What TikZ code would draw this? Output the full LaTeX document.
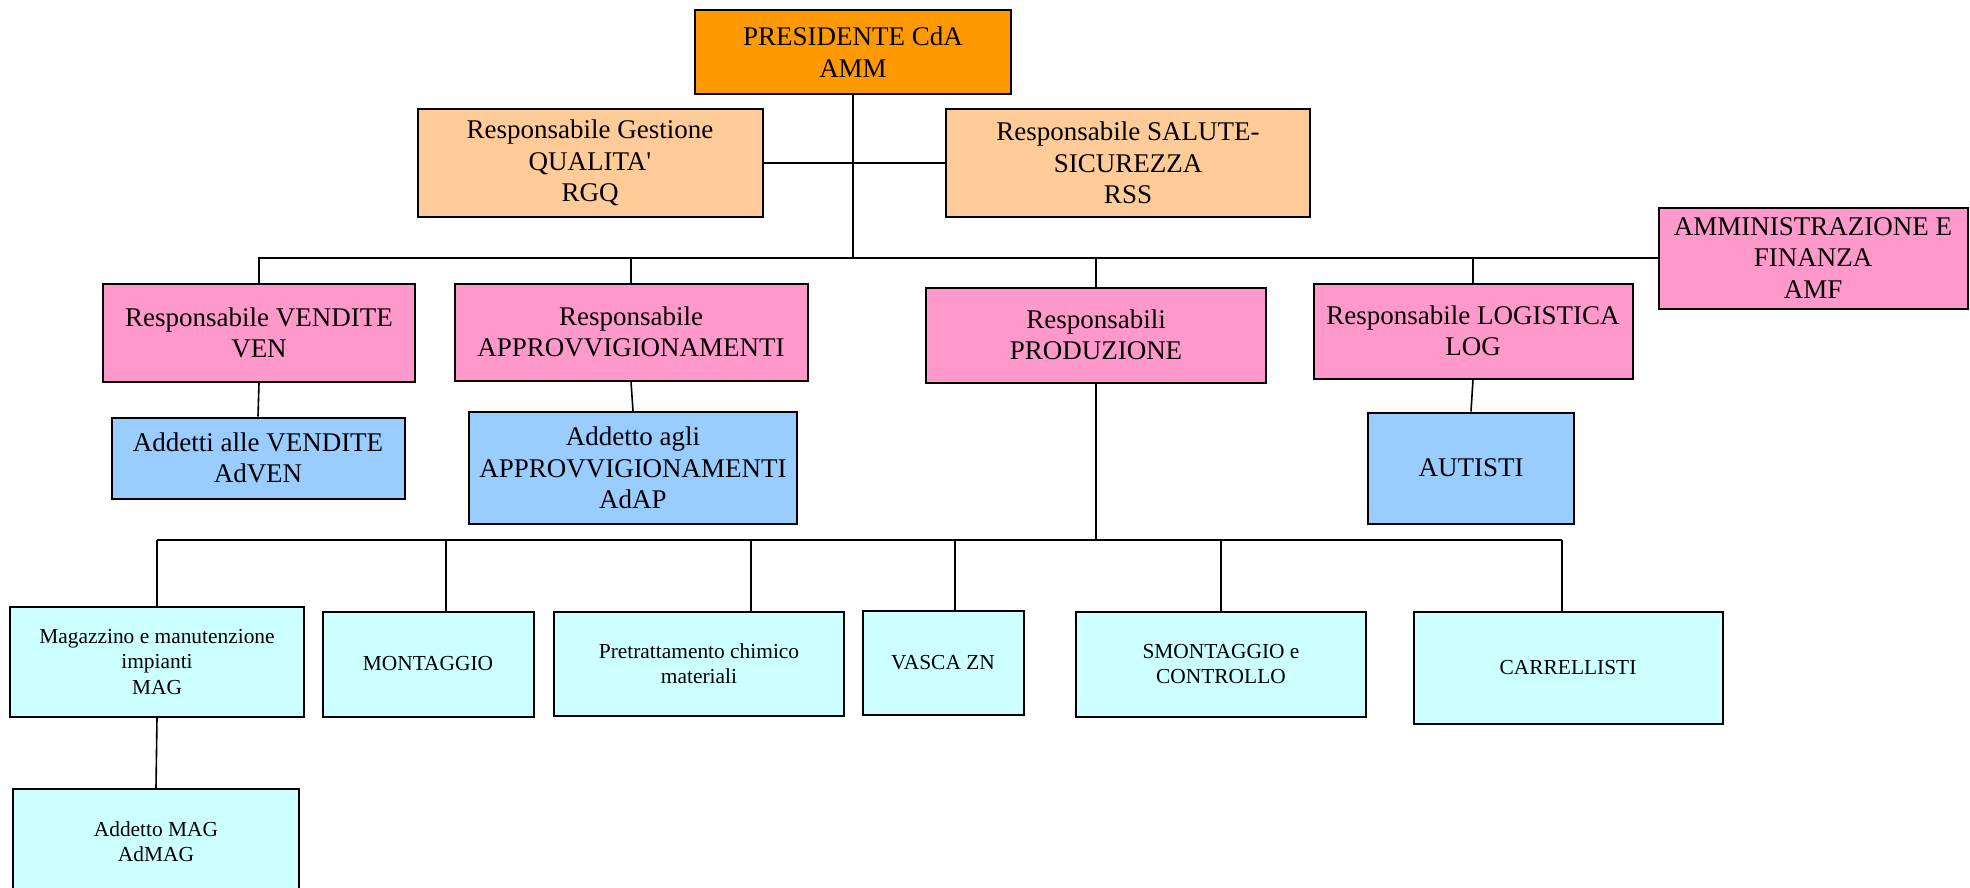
\documentclass[tikz,border=0pt]{standalone}
\usepackage{fontspec}
\setmainfont{Liberation Serif}[Ligatures=TeXOff]
\definecolor{presorange}{HTML}{FF9900}
\definecolor{staffpeach}{HTML}{FFCC99}
\definecolor{headpink}{HTML}{FF99CC}
\definecolor{aidblue}{HTML}{99CCFF}
\definecolor{unitcyan}{HTML}{CCFFFF}
\begin{document}
\begin{tikzpicture}[x=0.5pt,y=-0.5pt,
        box/.style={draw,line width=1pt,align=center,inner sep=2pt},
        bigtext/.style={font=\fontsize{13.5}{15.7}\selectfont},
        smalltext/.style={font=\fontsize{10.7}{12.6}\selectfont},
        link/.style={line width=0.8pt}]
        \useasboundingbox (0,0) rectangle (1970,888);
        %% top
        \node[box,bigtext,fill=presorange,minimum width=158pt,minimum height=42pt] (pres) at (853,52) {PRESIDENTE CdA\\AMM};
        \node[box,bigtext,fill=staffpeach,minimum width=172.5pt,minimum height=53.5pt] (rgq) at (590,163) {Responsabile Gestione\\QUALITA'\\RGQ};
        \node[box,bigtext,fill=staffpeach,minimum width=182pt,minimum height=53.5pt] (rss) at (1128,163) {Responsabile SALUTE-\\SICUREZZA\\RSS};
        \node[box,bigtext,fill=headpink,minimum width=154.5pt,minimum height=50.5pt] (amf) at (1813,258) {AMMINISTRAZIONE E\\FINANZA\\AMF};
        %% heads
        \node[box,bigtext,fill=headpink,minimum width=156pt,minimum height=49pt] (ven) at (259,333) {Responsabile VENDITE\\VEN};
        \node[box,bigtext,fill=headpink,minimum width=176.5pt,minimum height=48.5pt] (app) at (631,332) {Responsabile\\APPROVVIGIONAMENTI};
        \node[box,bigtext,fill=headpink,minimum width=170pt,minimum height=47.5pt] (prod) at (1096,335) {Responsabili\\PRODUZIONE};
        \node[box,bigtext,fill=headpink,minimum width=159.5pt,minimum height=47.5pt] (log) at (1473,331) {Responsabile LOGISTICA\\LOG};
        %% staff
        \node[box,bigtext,fill=aidblue,minimum width=146.5pt,minimum height=40.5pt] (adven) at (258,458) {Addetti alle VENDITE\\AdVEN};
        \node[box,bigtext,fill=aidblue,minimum width=164pt,minimum height=56pt] (adap) at (633,468) {Addetto agli\\APPROVVIGIONAMENTI\\AdAP};
        \node[box,bigtext,fill=aidblue,minimum width=103pt,minimum height=55.5pt] (aut) at (1471,468) {AUTISTI};
        %% production units
        \node[box,smalltext,fill=unitcyan,minimum width=147pt,minimum height=55pt] (mag) at (157,662) {Magazzino e manutenzione\\impianti\\MAG};
        \node[box,smalltext,fill=unitcyan,minimum width=105.5pt,minimum height=52.5pt] (mont) at (428,664) {MONTAGGIO};
        \node[box,smalltext,fill=unitcyan,minimum width=145pt,minimum height=52pt] (pret) at (699,664) {Pretrattamento chimico\\materiali};
        \node[box,smalltext,fill=unitcyan,minimum width=80.5pt,minimum height=52pt] (vasca) at (943,663) {VASCA ZN};
        \node[box,smalltext,fill=unitcyan,minimum width=145pt,minimum height=52.5pt] (smont) at (1221,664) {SMONTAGGIO e\\CONTROLLO};
        \node[box,smalltext,fill=unitcyan,minimum width=154.5pt,minimum height=56pt] (carr) at (1568,668) {CARRELLISTI};
        \node[box,smalltext,fill=unitcyan,minimum width=143pt,minimum height=53pt] (admag) at (156,842) {Addetto MAG\\AdMAG};
        %% links
        \draw[link] (rgq.east) -- (rss.west);
        \draw[link] (pres.south) -- (pres.south |- amf.west);
        \draw[link] (ven.north) |- (amf.west);
        \foreach \n in {app,prod,log}
            \draw[link] (\n.north) -- (\n.north |- amf.west);
        \draw[link] (ven.south) -- (adven.north);
        \draw[link] (app.south) -- (adap.north);
        \draw[link] (log.south) -- (aut.north);
        \coordinate (bus) at (0,540);
        \draw[link] (prod.south) -- (prod.south |- bus);
        \draw[link] (mag.north |- bus) -- ([xshift=-3pt]carr.north |- bus);
        \foreach \n/\d in {mag/0pt,mont/9pt,pret/26pt,vasca/6pt,smont/0pt,carr/-3pt}
            \draw[link] ([xshift=\d]\n.north) -- ([xshift=\d]\n.north |- bus);
        \draw[link] (mag.south) -- (admag.north);
    \end{tikzpicture}
\end{document}
